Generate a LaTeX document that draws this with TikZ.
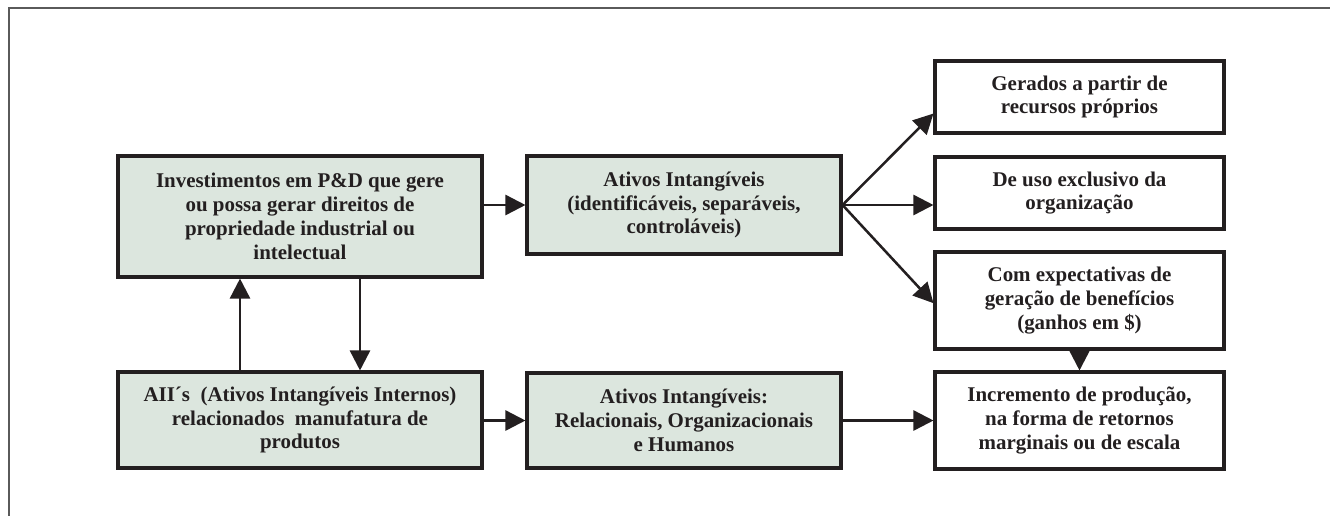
\documentclass[tikz,border=0pt]{standalone}
\usepackage{fontspec}
\setmainfont{Liberation Serif}
\usetikzlibrary{arrows.meta,calc}
\definecolor{boxfill}{RGB}{220,230,222}
\definecolor{txt}{RGB}{35,31,32}
\definecolor{framecol}{RGB}{90,90,90}
\begin{document}
\begin{tikzpicture}[x=0.75pt,y=-0.75pt,
  base/.style={draw=txt,line width=2.3pt,align=center,inner sep=2pt,
    font=\fontsize{15.7pt}{17.9pt}\selectfont\bfseries,text=txt},
  green/.style={base,fill=boxfill},
  white/.style={base,fill=white},
  conn/.style={draw=txt,line width=1.9pt,-{Triangle[length=15pt,width=15pt]}},
  frameline/.style={draw=framecol,line width=1.1pt}]
\useasboundingbox (0,0) rectangle (1330,515);
\draw[frameline] (1332,8) -- (9,8) -- (9,517);

\node[green,minimum width=273pt,minimum height=90.75pt] (inv) at (300,216.5)
  {Investimentos em P\&D que gere\\ou possa gerar direitos de\\propriedade industrial ou\\intelectual};
\node[green,minimum width=273pt,minimum height=72pt] (aii) at (300,420)
  {AII\textasciiacute s\ \ (Ativos Intangíveis Internos)\\relacionados\ \ manufatura de\\produtos};
\node[green,minimum width=235.5pt,minimum height=73.5pt] (ai) at (684,205)
  {Ativos Intangíveis\\(identificáveis, separáveis,\\controláveis)};
\node[green,minimum width=235.5pt,minimum height=71.25pt] (rel) at (684,420.5)
  {Ativos Intangíveis:\\Relacionais, Organizacionais\\e Humanos};
\node[white,minimum width=216.75pt,minimum height=54pt] (g1) at (1079.5,97)
  {Gerados a partir de\\recursos próprios};
\node[white,minimum width=216.75pt,minimum height=54pt] (g2) at (1079.5,193)
  {De uso exclusivo da\\organização};
\node[white,minimum width=216.75pt,minimum height=72.75pt] (g3) at (1079.5,300.5)
  {Com expectativas de\\geração de benefícios\\(ganhos em \$)};
\node[white,minimum width=216.75pt,minimum height=72.75pt] (g4) at (1079.5,420.5)
  {Incremento de produção,\\na forma de retornos\\marginais ou de escala};

\draw[conn] (inv.east |- ai.west) -- (ai.west);
\draw[conn] (aii.east |- rel.west) -- (rel.west);
\draw[conn] (rel.east) -- (rel.east -| g4.west);
\draw[conn] ([xshift=45pt]inv.south) -- ([xshift=45pt]aii.north);
\draw[conn] ([xshift=-45pt]aii.north) -- ([xshift=-45pt]inv.south);
\draw[conn] (ai.east) -- ([yshift=15.75pt]g1.south west);
\draw[conn] (ai.east) -- (ai.east -| g2.west);
\draw[conn] (ai.east) -- ([yshift=-2pt]g3.west);
\draw[conn] (g3.south) -- (g4.north);
\end{tikzpicture}
\end{document}
